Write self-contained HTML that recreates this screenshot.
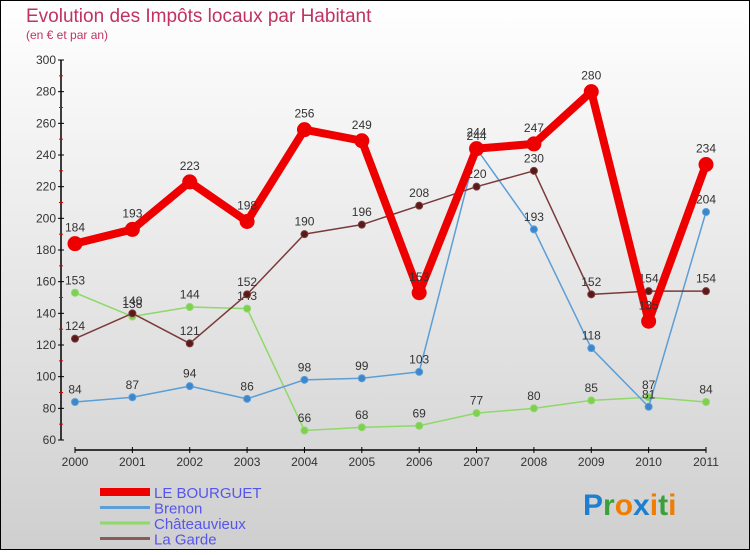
<!DOCTYPE html>
<html><head><meta charset="utf-8"><style>
body{margin:0}
#c{width:750px;height:550px;position:relative;font-family:"Liberation Sans",sans-serif}
</style></head><body>
<div id="c">
<svg id="s" width="750" height="550" xmlns="http://www.w3.org/2000/svg">
<defs><linearGradient id="bg" x1="0" y1="0" x2="0" y2="1"><stop offset="0" stop-color="#ffffff"/><stop offset="1" stop-color="#cfcfcf"/></linearGradient></defs>
<rect x="0.5" y="0.5" width="749" height="549" fill="url(#bg)" stroke="#000"/>
<text x="26" y="22" font-size="19" fill="#c0335f">Evolution des Impôts locaux par Habitant</text>
<text x="26" y="39" font-size="12" fill="#c0335f">(en € et par an)</text>
<g id="axes"></g><g id="series"></g><g id="legend"></g>
<text x="583" y="515" font-size="30" font-weight="bold"><tspan fill="#1e7fd0">P</tspan><tspan fill="#3aa03a">r</tspan><tspan fill="#f07d00">o</tspan><tspan fill="#1e7fd0">x</tspan><tspan fill="#f07d00">i</tspan><tspan fill="#3aa03a">t</tspan><tspan fill="#f07d00">i</tspan></text>
</svg></div>
<script>
const years=["2000","2001","2002","2003","2004","2005","2006","2007","2008","2009","2010","2011"];
const yTicks=[60,80,100,120,140,160,180,200,220,240,260,280,300];
const bourguet=[184,193,223,198,256,249,153,244,247,280,135,234];
const brenon=[84,87,94,86,98,99,103,244,193,118,81,204];
const chateauvieux=[153,138,144,143,66,68,69,77,80,85,87,84];
const lagarde=[124,140,121,152,190,196,208,220,230,152,154,154];
const NS="http://www.w3.org/2000/svg";
const X=i=>75+i*(706-75)/11;
const Y=v=>440-(v-60)*380/240;
function mk(tag,attrs,parent){const e=document.createElementNS(NS,tag);for(const k in attrs)e.setAttribute(k,attrs[k]);parent.appendChild(e);return e;}
const ax=document.getElementById('axes');
const yl=mk('line',{x1:61,y1:60,x2:61,y2:440,stroke:'#000','stroke-width':1.5},ax);


yTicks.forEach((t,i)=>{
  mk('line',{x1:58,y1:Y(t),x2:64,y2:Y(t),stroke:'#000'},ax);
  if(i<yTicks.length-1) mk('line',{x1:59,y1:Y(t+10),x2:63,y2:Y(t+10),stroke:'#d00'},ax);
  const tx=mk('text',{x:56,y:Y(t)+4,'font-size':12,'text-anchor':'end',fill:'#333'},ax);
  tx.textContent=t;
  
  
});
const xl=mk('line',{x1:75,y1:450,x2:706,y2:450,stroke:'#000','stroke-width':1.5},ax);


years.forEach((y,i)=>{
  mk('line',{x1:X(i),y1:447,x2:X(i),y2:453,stroke:'#000'},ax);
  const tx=mk('text',{x:X(i),y:466,'font-size':12,'text-anchor':'middle',fill:'#333'},ax);
  tx.textContent=y;
  
  
});
const se=document.getElementById('series');
function draw(name,data,color,w,r,dot,lab){
  const g=mk('g',{},se);
  
  
  const pts=data.map((v,i)=>X(i)+','+Y(v)).join(' ');
  mk('polyline',{points:pts,fill:'none',stroke:color,'stroke-width':w,'stroke-linejoin':'round'},g);
  data.forEach((v,i)=>{
    const c=mk('circle',{cx:X(i),cy:Y(v),r:r,fill:dot,stroke:color,'stroke-width':1},g);
    
    
    const t=mk('text',{x:X(i),y:Y(v)-(r+5),'font-size':12,'text-anchor':'middle',fill:'#333'},g);
    t.textContent=v;
    
    
  });
}
draw('chateauvieux',chateauvieux,'#8fd86a',1.5,3.5,'#7ed050');
draw('brenon',brenon,'#5c9ed6',1.5,3.5,'#3b86cc');
draw('la-garde',lagarde,'#7a3a3a',1.5,3.5,'#5a1a1a');
draw('le-bourguet',bourguet,'#ee0000',8,7,'#ee0000');
const lg=document.getElementById('legend');
const items=[['LE BOURGUET','#ee0000',8],['Brenon','#5c9ed6',3],['Châteauvieux','#8fd86a',3],['La Garde','#8a5a5a',3]];
items.forEach((it,i)=>{
  const yy=492+i*15.5;
  const l=mk('line',{x1:100,y1:yy,x2:150,y2:yy,stroke:it[1],'stroke-width':it[2]},lg);
  
  
  const t=mk('text',{x:154,y:yy+6,'font-size':15,fill:'#5555ee'},lg);
  t.textContent=it[0];
  
  
});
</script>
</body></html>
